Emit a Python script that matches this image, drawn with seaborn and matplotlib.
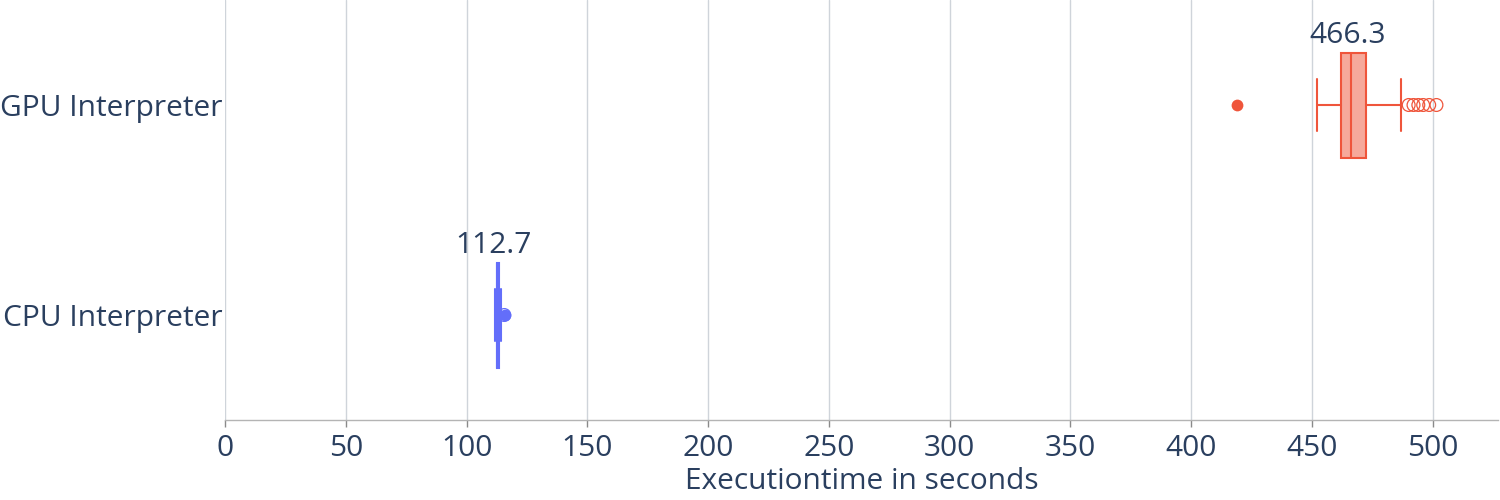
import numpy as np
import pandas as pd
import matplotlib
matplotlib.use('Agg')
import matplotlib.pyplot as plt
import seaborn as sns

# values
categories = ['CPU Interpreter', 'GPU Interpreter']
colors = ['#636EFA', '#EF553B']
fills = ['#636EFA', '#F6A99B']
q1 = [112.4, 462.0]
medians = [112.7, 466.3]
q3 = [113.6, 472.5]
whis_lo = [111.9, 452.0]
whis_hi = [114.3, 486.7]
# outliers beyond the whiskers (hollow) and suspected outliers (filled)
cpu_outliers = [115.6]
cpu_suspected = [115.9]
gpu_outliers = [490.0, 492.0, 494.0, 496.0, 498.5, 501.5]
gpu_suspected = [418.8]

TEXT = '#2a3f5f'
GRID = '#cfd4da'
FS = 21.5

sns.set_theme(style='white')
plt.rcParams['font.family'] = ['Open Sans', 'DejaVu Sans']

fig = plt.figure(figsize=(15, 5), dpi=100)
ax = fig.add_axes([0.15, 0.16, 0.8487, 0.84])

stats = []
for i, name in enumerate(categories):
    stats.append({'label': name, 'med': medians[i], 'q1': q1[i], 'q3': q3[i],
                  'whislo': whis_lo[i], 'whishi': whis_hi[i], 'fliers': []})

parts = ax.bxp(stats, positions=[0, 1], widths=0.5, capwidths=0.25,
               orientation='horizontal', patch_artist=True, showfliers=False)
for i in range(2):
    parts['boxes'][i].set_facecolor(fills[i])
    parts['boxes'][i].set_edgecolor(colors[i])
    parts['boxes'][i].set_linewidth(1.5)
    parts['boxes'][i].set_zorder(3)
    parts['medians'][i].set_color(colors[i])
    parts['medians'][i].set_linewidth(1.5)
    parts['medians'][i].set_zorder(3)
    for ln in parts['whiskers'][2 * i:2 * i + 2] + parts['caps'][2 * i:2 * i + 2]:
        ln.set_color(colors[i])
        ln.set_linewidth(1.5)
        ln.set_zorder(3)

hollow = pd.DataFrame({'value': cpu_outliers + gpu_outliers,
                       'pos': [0] * len(cpu_outliers) + [1] * len(gpu_outliers)})
filled = pd.DataFrame({'value': cpu_suspected + gpu_suspected,
                       'pos': [0] * len(cpu_suspected) + [1] * len(gpu_suspected)})
for pos in [0, 1]:
    sns.scatterplot(data=hollow[hollow.pos == pos], x='value', y='pos', ax=ax,
                    marker='o', s=85, facecolor='none', edgecolor=colors[pos],
                    linewidth=0.9, zorder=2)
    sns.scatterplot(data=filled[filled.pos == pos], x='value', y='pos', ax=ax,
                    marker='o', s=72, color=colors[pos], edgecolor=colors[pos],
                    linewidth=0, zorder=2)

# median annotations above each box
for i in range(2):
    ax.annotate(f'{medians[i]:.1f}', xy=(medians[i], i + 0.25), xytext=(-3, 2),
                textcoords='offset points', ha='center', va='bottom',
                fontsize=FS, color=TEXT)

ax.set_xlim(0, 527)
ax.set_ylim(-0.5, 1.5)
ax.set_xticks(np.arange(0, 501, 50))
ax.set_yticks([0, 1], categories)
ax.grid(axis='x', color=GRID, linewidth=1)
ax.grid(axis='y', visible=False)
ax.set_axisbelow(True)
for side in ['top', 'right', 'left']:
    ax.spines[side].set_visible(False)
ax.spines['bottom'].set_color('#b4b4b4')
ax.spines['bottom'].set_linewidth(1)
ax.tick_params(axis='x', length=5, width=1, color='#8a8a8a', labelsize=FS,
               labelcolor=TEXT, pad=5, bottom=True)
ax.tick_params(axis='y', length=0, labelsize=FS, labelcolor=TEXT, pad=2)
ax.set_xlabel('Executiontime in seconds', fontsize=FS, color=TEXT, labelpad=3)
ax.set_ylabel('')

fig.savefig('out.png', dpi=100)
